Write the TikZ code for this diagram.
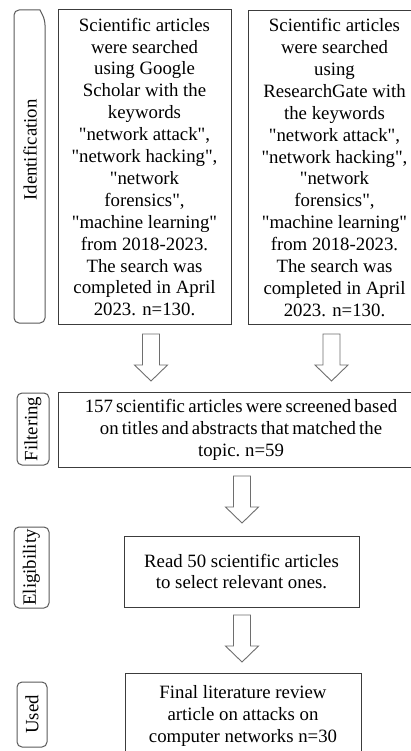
\documentclass[tikz,border=0pt]{standalone}
\usepackage{fontspec}
\setmainfont{Liberation Serif}[Ligatures=TeXOff]
\usetikzlibrary{calc}
\definecolor{boxline}{HTML}{3C3C3C}
\definecolor{labline}{HTML}{5A5A5A}
\definecolor{arrline}{HTML}{6E6E6E}
\newcommand\blockarr[2]{\draw[arr] let \p1=(#1), \p2=(#2) in
  (\x1-8.5pt,\y1) -- (\x1-8.5pt,\y2+16pt) -- (\x1-16.5pt,\y2+16pt) -- (\x2,\y2)
  -- (\x1+16.5pt,\y2+16pt) -- (\x1+8.5pt,\y2+16pt) -- (\x1+8.5pt,\y1) -- cycle;}
\begin{document}
\begin{tikzpicture}[x=1pt,y=-1pt,
  every node/.style={font=\fontsize{18.8}{21.9}\selectfont, text=black},
  box/.style={draw=boxline, line width=1pt, align=center, inner sep=0pt},
  lab/.style={draw=labline, line width=1pt, rounded corners=5pt, rotate=90, inner sep=0pt},
  arr/.style={draw=arrline, line width=0.9pt, line join=miter}]
\useasboundingbox (0,0) rectangle (411,751);
\clip (0,0) rectangle (411,751);
\fill[white] (0,0) rectangle (411,751);

% Boxes
\node[box, minimum width=173pt, minimum height=314pt] (id1) at (144.5,167) {Scientific articles\\were searched\\using Google\\Scholar with the\\keywords\\"network attack",\\"network hacking",\\"network\\forensics",\\"machine learning"\\from 2018-2023.\\The search was\\completed in April\\2023. n=130.};
\node[box, minimum width=173pt, minimum height=313pt] (id2) at (334.5,167.5) {Scientific articles\\were searched\\using\\ResearchGate with\\the keywords\\"network attack",\\"network hacking",\\"network\\forensics",\\"machine learning"\\from 2018-2023.\\The search was\\completed in April\\2023. n=130.};
\node[box, minimum width=366pt, minimum height=75pt, font={\fontsize{18.8}{21.9}\selectfont\spaceskip=0.17em\relax}] (filt) at (241,429.5) {157 scientific articles were screened based\\on titles and abstracts that matched the\\topic. n=59};
\node[box, minimum width=235pt, minimum height=71pt] (elig) at (241.5,571.5) {Read 50 scientific articles\\to select relevant ones.};
\node[box, minimum width=236pt, minimum height=86pt] (used) at (243,716) {Final literature review\\article on attacks on\\computer networks n=30};

% Stage labels
\draw[draw=labline, line width=1pt] (40,10) [rounded corners=5pt] -- (14,10) -- (14,323) -- (45,323) -- (45,20) [sharp corners] -- cycle;
\node[rotate=90, inner sep=0pt] (idl) at (30,150) {Identification};
\node[lab, minimum width=72pt, minimum height=32pt] (fl) at (33,429) {Filtering};
\node[lab, minimum width=81pt, minimum height=35pt] (el) at (31.5,567.5) {Eligibility};
\node[lab, minimum width=65pt, minimum height=30pt] (ul) at (32,714.5) {Used};

% Block arrows
\coordinate (a1s) at (151,334); \coordinate (a1e) at (151,381);
\coordinate (a2s) at (331.5,334); \coordinate (a2e) at (331.5,381);
\coordinate (a3s) at (242,476); \coordinate (a3e) at (242,523);
\coordinate (a4s) at (242,615); \coordinate (a4e) at (242,662);
\blockarr{a1s}{a1e}
\blockarr{a2s}{a2e}
\blockarr{a3s}{a3e}
\blockarr{a4s}{a4e}
\end{tikzpicture}
\end{document}
